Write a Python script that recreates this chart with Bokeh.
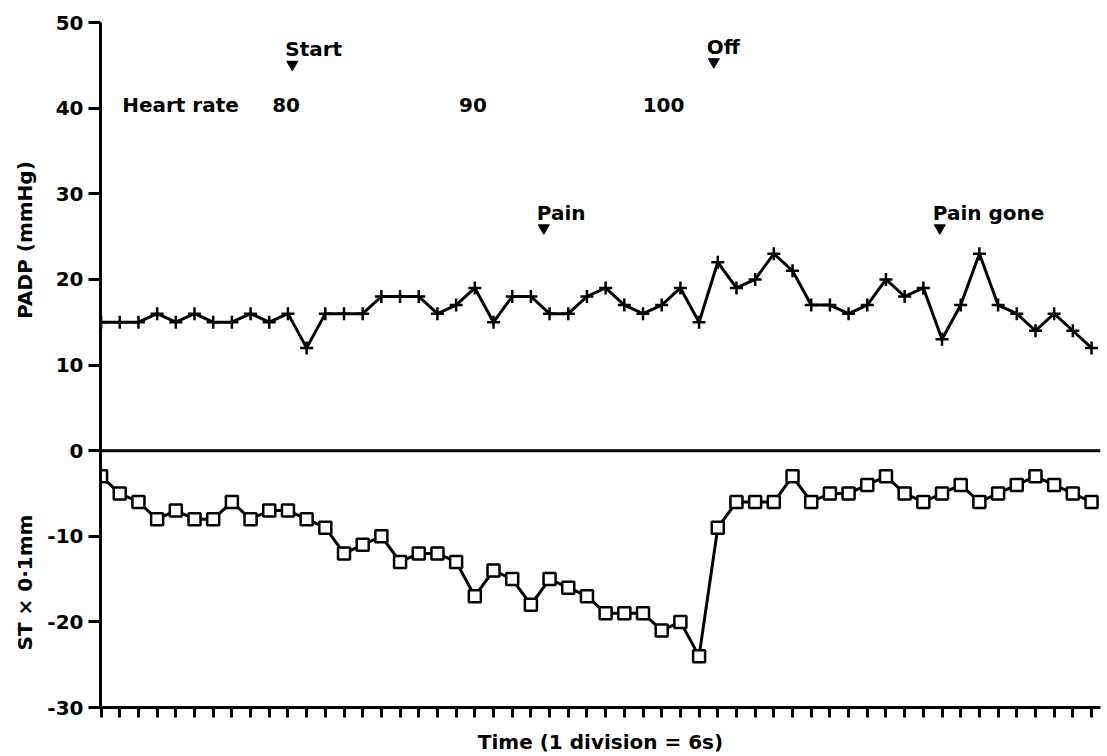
import math
from bokeh.plotting import figure
from bokeh.layouts import row
from bokeh.models import Range1d, FixedTicker, Span, ColumnDataSource
from bokeh.core.properties import value
from bokeh.embed import file_html
from bokeh.resources import INLINE

# ---- data ----
time_div = list(range(54))
padp = [15, 15, 15, 16, 15, 16, 15, 15, 16, 15,
        16, 12, 16, 16, 16, 18, 18, 18, 16, 17,
        19, 15, 18, 18, 16, 16, 18, 19, 17, 16,
        17, 19, 15, 22, 19, 20, 23, 21, 17, 17,
        16, 17, 20, 18, 19, 13, 17, 23, 17, 16,
        14, 16, 14, 12]
st = [-3, -5, -6, -8, -7, -8, -8, -6, -8, -7,
      -7, -8, -9, -12, -11, -10, -13, -12, -12, -13,
      -17, -14, -15, -18, -15, -16, -17, -19, -19, -19,
      -21, -20, -24, -9, -6, -6, -6, -3, -6, -5,
      -5, -4, -3, -5, -6, -5, -4, -6, -5, -4,
      -3, -4, -5, -6]
y_ticks = [50, 40, 30, 20, 10, 0, -10, -20, -30]

event_names = ["Start", "Off", "Pain", "Pain gone"]
event_x = [10.23, 32.79, 23.69, 44.88]
event_y = [45.1, 45.4, 26.0, 26.0]

hr_title = "Heart rate"
hr_title_x = 1.13
hr_labels = ["80", "90", "100"]
hr_x = [9.9, 19.9, 30.1]
hr_y = 40.4

ylabel_texts = ["PADP (mmHg)", "ST \u00d7 0\u00b71mm"]
ylabel_y = [24.6, -15.4]
xlabel = "Time (1 division = 6s)"

FONT = "DejaVu Sans"
FS = "20px"
H = 756
TOP = 22
BOTTOM = 48
LEFT_W = 40

# ---- left strip carrying the two rotated axis titles ----
lp = figure(width=LEFT_W, height=H, output_backend="svg", toolbar_location=None,
            x_range=Range1d(0, LEFT_W), y_range=Range1d(-30, 50),
            min_border_left=0, min_border_right=0, min_border_top=TOP, min_border_bottom=BOTTOM)
lp.axis.visible = False
lp.grid.visible = False
lp.outline_line_color = None
lp.text([24] * len(ylabel_texts), ylabel_y, text=ylabel_texts, angle=math.pi / 2,
        text_font=value(FONT), text_font_style="bold", text_font_size=FS,
        text_align="center", text_baseline="middle", text_color="black")

# ---- main chart ----
p = figure(width=1102 - LEFT_W, height=H, output_backend="svg", toolbar_location=None,
           x_range=Range1d(-0.03, 53.48), y_range=Range1d(-30, 50),
           min_border_left=100 - LEFT_W, min_border_right=2,
           min_border_top=TOP, min_border_bottom=BOTTOM)
p.outline_line_color = None
p.grid.visible = False

ya = p.yaxis[0]
ya.ticker = FixedTicker(ticks=y_ticks)
ya.major_label_overrides = {t: str(t) for t in y_ticks}
ya.minor_tick_line_color = None
ya.axis_line_width = 3
ya.major_tick_line_width = 3
ya.major_tick_out = 12
ya.major_tick_in = 0
ya.major_label_standoff = 5
ya.major_label_text_font = FONT
ya.major_label_text_font_style = "bold"
ya.major_label_text_font_size = FS
ya.major_label_text_color = "black"
ya.axis_line_color = "black"
ya.major_tick_line_color = "black"

xa = p.xaxis[0]
xa.ticker = FixedTicker(ticks=time_div)
xa.minor_tick_line_color = None
xa.axis_line_width = 3
xa.major_tick_line_width = 3
xa.major_tick_out = 10
xa.major_tick_in = 0
xa.major_label_text_font_size = "1px"
xa.major_label_text_alpha = 0
xa.major_label_standoff = 0
xa.axis_label = xlabel
xa.axis_label_standoff = 12
xa.axis_label_text_font = FONT
xa.axis_label_text_font_style = "bold"
xa.axis_label_text_font_size = FS
xa.axis_label_text_color = "black"
xa.axis_line_color = "black"
xa.major_tick_line_color = "black"

p.add_layout(Span(location=0, dimension="width", line_color="black", line_width=3))

p.line(time_div, padp, line_color="black", line_width=3)
p.scatter(time_div, padp, marker="cross", size=13, line_color="black", line_width=2.5)
p.line(time_div, st, line_color="black", line_width=3)
p.scatter(time_div, st, marker="square", size=12, line_color="black", line_width=2.5,
          fill_color="white")

ev = ColumnDataSource(dict(x=event_x, y=event_y, name=event_names))
p.scatter("x", "y", source=ev, marker="inverted_triangle", size=11,
          fill_color="black", line_color="black")
p.text("x", "y", text="name", source=ev, x_offset=-7, y_offset=-15,
       text_font=value(FONT), text_font_style="bold", text_font_size=FS,
       text_align="left", text_baseline="alphabetic", text_color="black")

p.text([hr_title_x], [hr_y], text=[hr_title], text_font=value(FONT), text_font_style="bold",
       text_font_size=FS, text_align="left", text_baseline="alphabetic", text_color="black")
p.text(hr_x, [hr_y] * len(hr_x), text=hr_labels, text_font=value(FONT), text_font_style="bold",
       text_font_size=FS, text_align="center", text_baseline="alphabetic", text_color="black")

layout = row(lp, p, spacing=0)
open("out.html", "w").write(file_html(layout, INLINE))
